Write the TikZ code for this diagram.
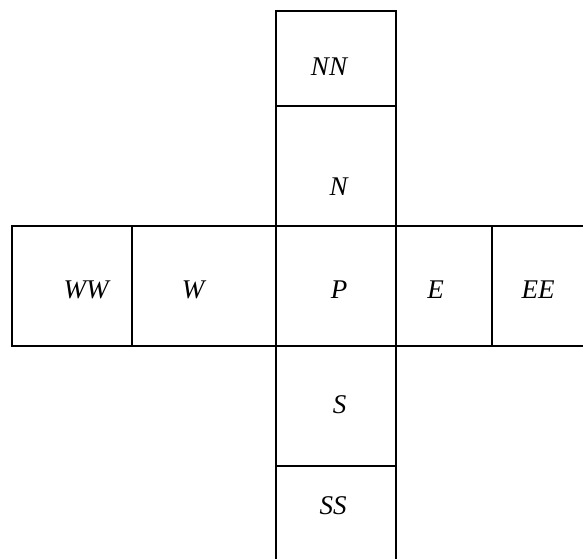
\documentclass[tikz,border=0pt]{standalone}
\usepackage{fontspec}
\setmainfont{Liberation Serif}
\usepackage{tikz}

\begin{document}
\begin{tikzpicture}[x=1pt, y=-1pt,
  cell/.style={draw, line width=2pt, inner sep=0pt, minimum width=120pt, minimum height=120pt},
  lab/.style={font=\fontsize{27}{29}\selectfont\itshape, inner sep=1pt}]
\useasboundingbox (0,0) rectangle (583,558);
% column
\node[cell, minimum height=95.5pt] (nn) at (336,58.25) {};
\node[cell] (n) at (336,166) {};
\node[cell] (p) at (336,286) {};
\node[cell] (s) at (336,406) {};
\node[cell] (ss) at (336,526) {};
% row
\node[cell] (ww) at (72,286) {};
\node[cell, minimum width=144pt] (w) at (204,286) {};
\node[cell, minimum width=96pt] (e) at (444,286) {};
\node[cell] (ee) at (552,286) {};
% labels
\node[lab] (lnn) at (329,67) {NN};
\node[lab] (ln) at (338.5,187) {N};
\node[lab] (lp) at (339,290) {P};
\node[lab] (ls) at (339.5,405) {S};
\node[lab] (lss) at (333,506) {SS};
\node[lab] (lww) at (86,290) {WW};
\node[lab] (lw) at (193,290) {W};
\node[lab] (le) at (435.5,290) {E};
\node[lab] (lee) at (538,290) {EE};
\end{tikzpicture}
\end{document}
